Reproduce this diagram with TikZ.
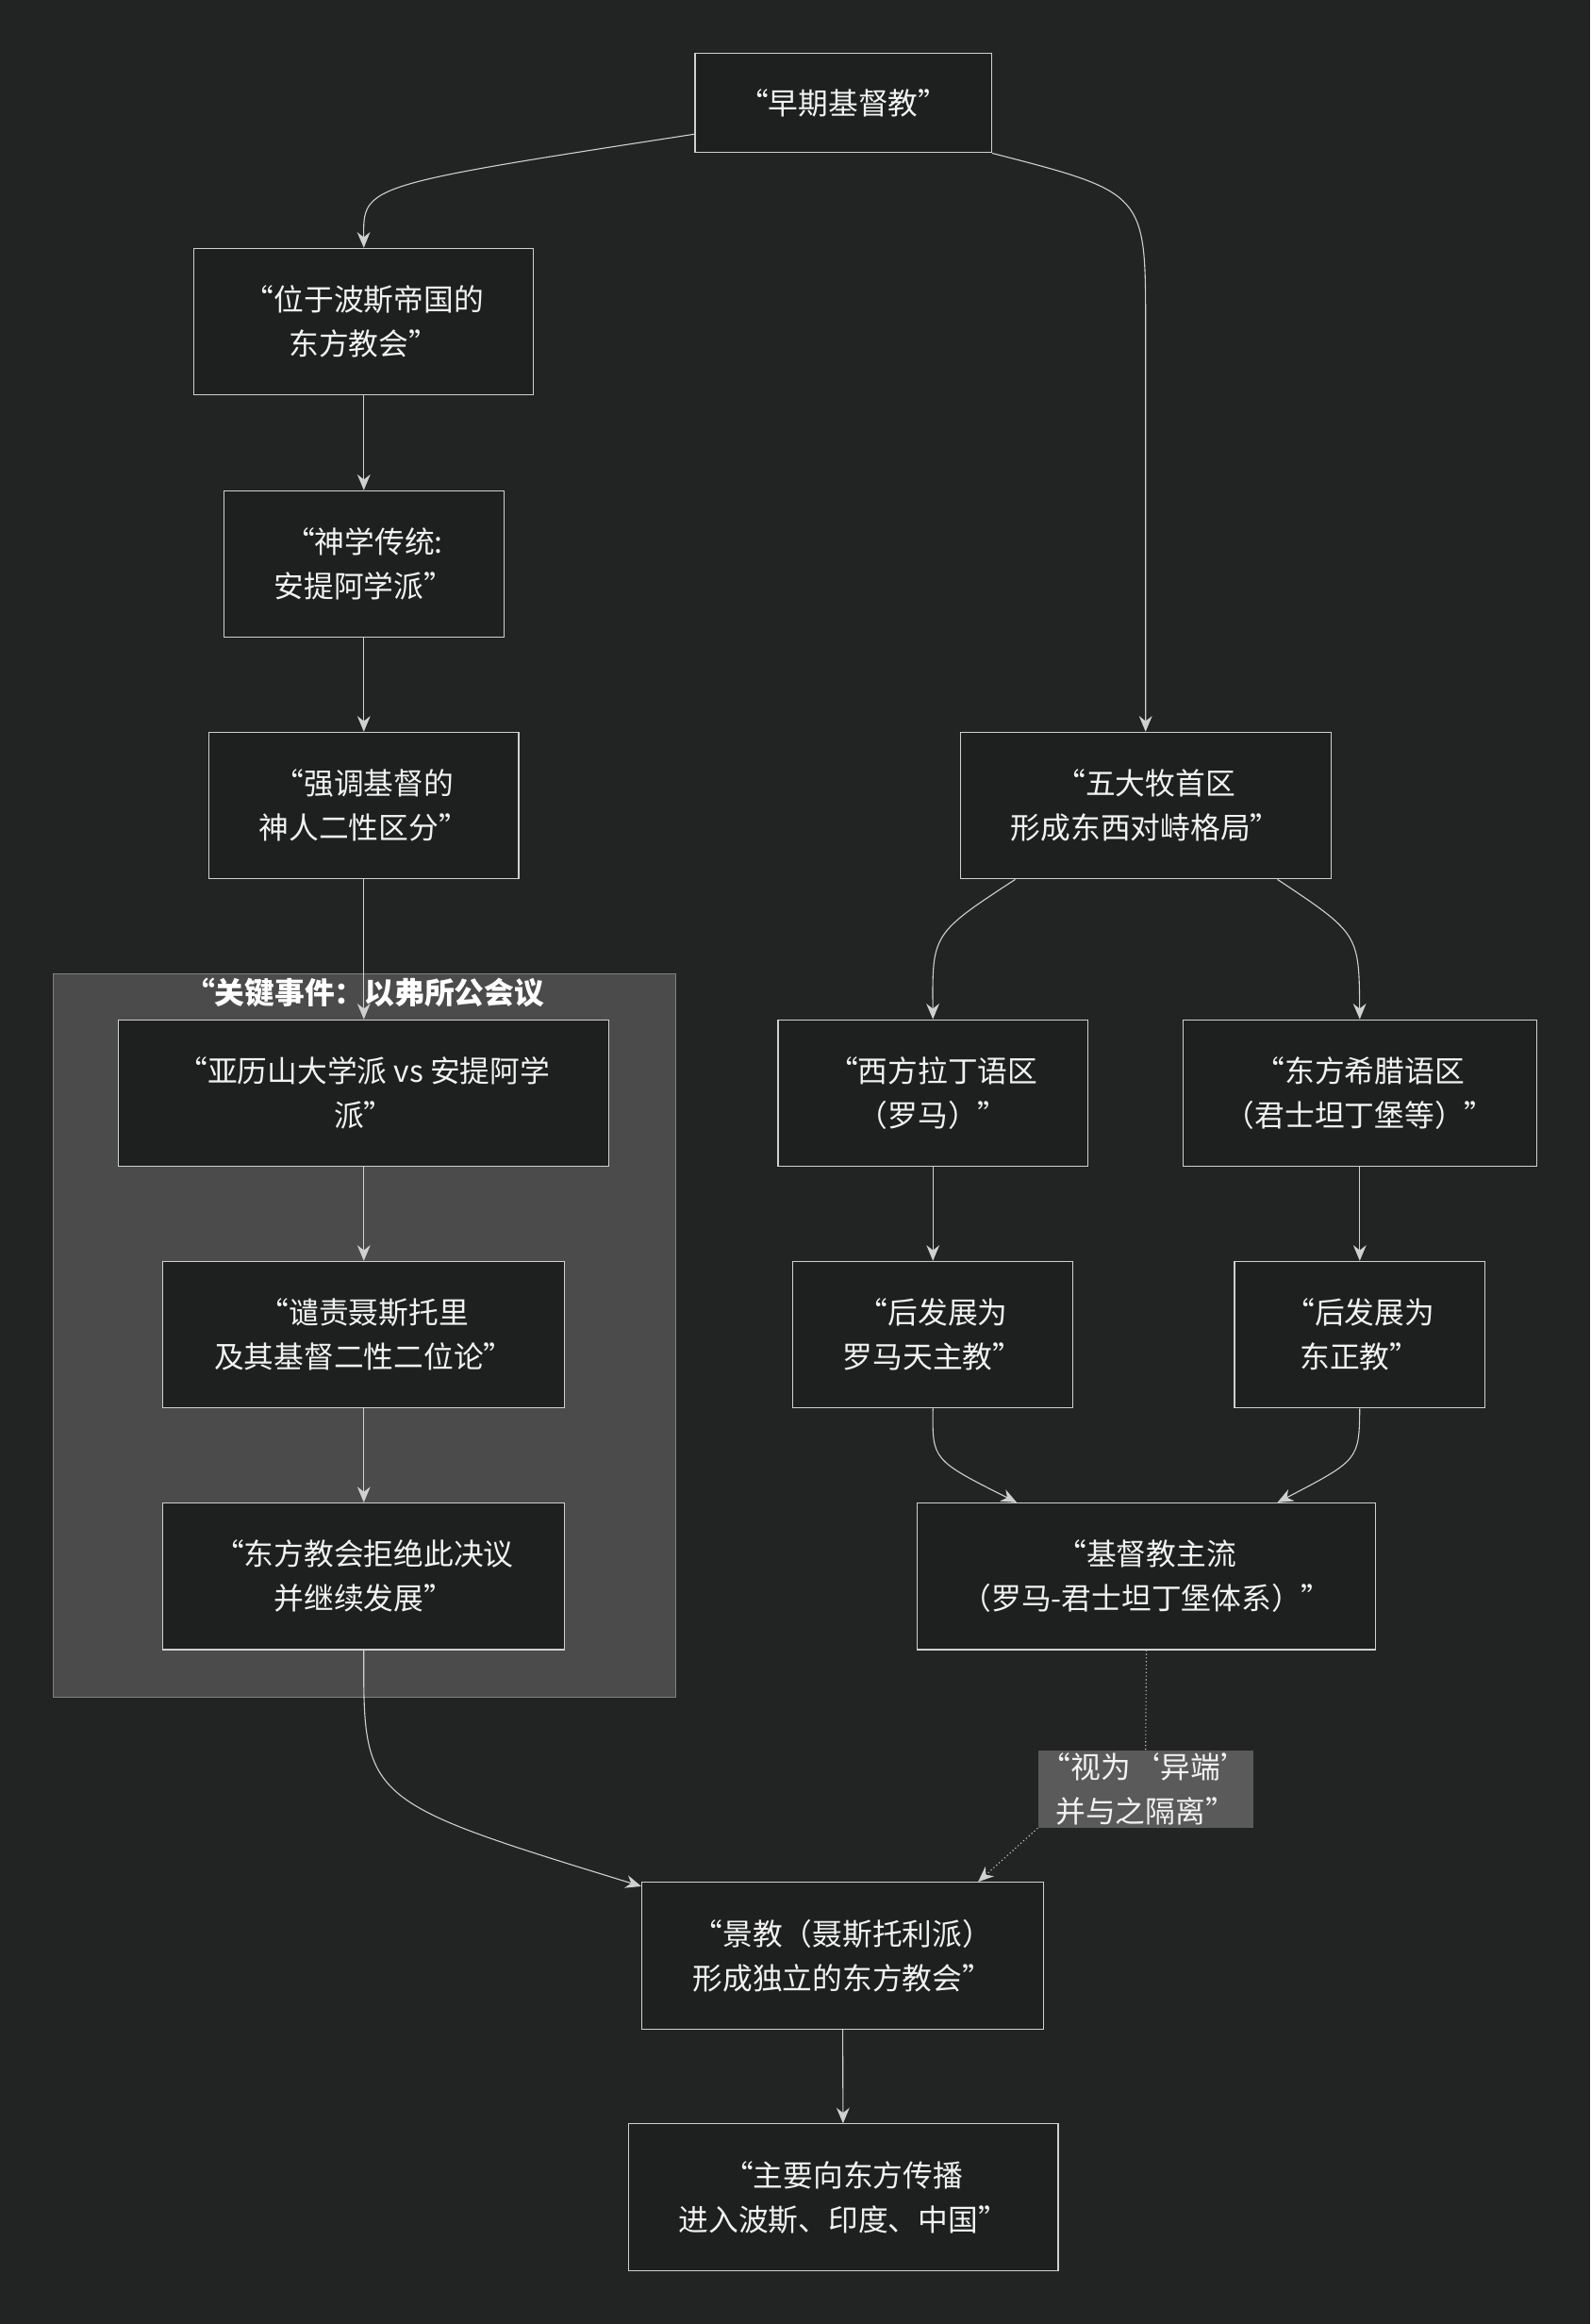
\documentclass[tikz,border=0pt]{standalone}
\usepackage{fontspec}
\setmainfont{Noto Sans CJK SC}
\usetikzlibrary{arrows.meta}
\definecolor{bgdark}{HTML}{222323}
\definecolor{boxdark}{HTML}{1E1F1F}
\definecolor{linegray}{HTML}{D0D0D0}
\definecolor{clusterfill}{HTML}{4A4B4A}
\definecolor{labelfill}{HTML}{5A5A5A}
\tikzset{
  stage/.style={draw=linegray, fill=boxdark, text=white!90!gray, align=center,
    font=\fontsize{11.5}{17}\selectfont, minimum height=1.98cm, inner sep=2pt},
  flow/.style={-{Stealth[length=6pt,width=5pt]}, linegray, thin},
  hint/.style={flow, densely dotted},
}
\begin{document}
\begin{tikzpicture}[x=0.02cm,y=-0.02cm]
\fill[bgdark] (0,0) rectangle (1073,1568);
\useasboundingbox (0,0) rectangle (1073,1568);
% cluster
\draw[fill=clusterfill, draw=gray] (36,657) rectangle (456,1145);
\node[text=white, font=\fontsize{11.5}{14}\selectfont\bfseries] (ctitle) at (246,670) {“关键事件：以弗所公会议};
% left branch
\node[stage, minimum width=4cm, minimum height=1.34cm] (early) at (569,69.5) {“早期基督教”};
\node[stage, minimum width=4.58cm] (persia) at (245.5,217) {“位于波斯帝国的\\东方教会”};
\node[stage, minimum width=3.78cm] (antioch) at (245.5,380.5) {“神学传统:\\安提阿学派”};
\node[stage, minimum width=4.18cm] (nature) at (245.5,543.5) {“强调基督的\\神人二性区分”};
\node[stage, minimum width=6.62cm] (school) at (245.5,737.5) {“亚历山大学派 vs 安提阿学\\派”};
\node[stage, minimum width=5.42cm] (condemn) at (245.5,900.5) {“谴责聂斯托里\\及其基督二性二位论”};
\node[stage, minimum width=5.42cm] (reject) at (245.5,1063.5) {“东方教会拒绝此决议\\并继续发展”};
% right branch
\node[stage, minimum width=5cm] (five) at (773,543.5) {“五大牧首区\\形成东西对峙格局”};
\node[stage, minimum width=4.18cm] (latin) at (629.5,737.5) {“西方拉丁语区\\（罗马）”};
\node[stage, minimum width=4.78cm] (greek) at (917.5,737.5) {“东方希腊语区\\（君士坦丁堡等）”};
\node[stage, minimum width=3.78cm] (catholic) at (629.5,900.5) {“后发展为\\罗马天主教”};
\node[stage, minimum width=3.38cm] (orthodox) at (917.5,900.5) {“后发展为\\东正教”};
\node[stage, minimum width=6.18cm] (mainstream) at (773.5,1063.5) {“基督教主流\\（罗马-君士坦丁堡体系）”};
% bottom
\node[fill=labelfill, text=white!90!gray, align=center, inner sep=1pt,
  font=\fontsize{11.5}{17}\selectfont] (heresy) at (773,1207) {“视为‘异端’\\并与之隔离”};
\node[stage, minimum width=5.42cm] (nestor) at (568.5,1319.5) {“景教（聂斯托利派）\\形成独立的东方教会”};
\node[stage, minimum width=5.8cm] (spread) at (569,1482.5) {“主要向东方传播\\进入波斯、印度、中国”};
% connectors
\draw[flow] ([yshift=-0.42cm]early.west) .. controls (245,125) .. (persia.north);
\draw[flow] (early.south east) .. controls (773,130) .. (773,220) -- (five.north);
\draw[flow] (persia) -- (antioch);
\draw[flow] (antioch) -- (nature);
\draw[flow] (nature) -- (school);
\draw[flow] (school) -- (condemn);
\draw[flow] (condemn) -- (reject);
\draw[flow] ([xshift=-1.76cm]five.south) .. controls (629,630) .. (latin.north);
\draw[flow] ([xshift=1.78cm]five.south) .. controls (917,630) .. (greek.north);
\draw[flow] (latin) -- (catholic);
\draw[flow] (greek) -- (orthodox);
\draw[flow] (catholic.south) .. controls (629,985) .. ([xshift=-1.75cm]mainstream.north);
\draw[flow] (orthodox.south) .. controls (917,985) .. ([xshift=1.77cm]mainstream.north);
\draw[flow] (reject.south) .. controls (245,1215) .. ([yshift=-0.06cm]nestor.north west);
\draw[linegray, densely dotted] (mainstream.south) -- (heresy.north);
\draw[hint] (heresy.south west) -- ([xshift=1.83cm]nestor.north);
\draw[flow] (nestor) -- (spread);
\end{tikzpicture}
\end{document}
